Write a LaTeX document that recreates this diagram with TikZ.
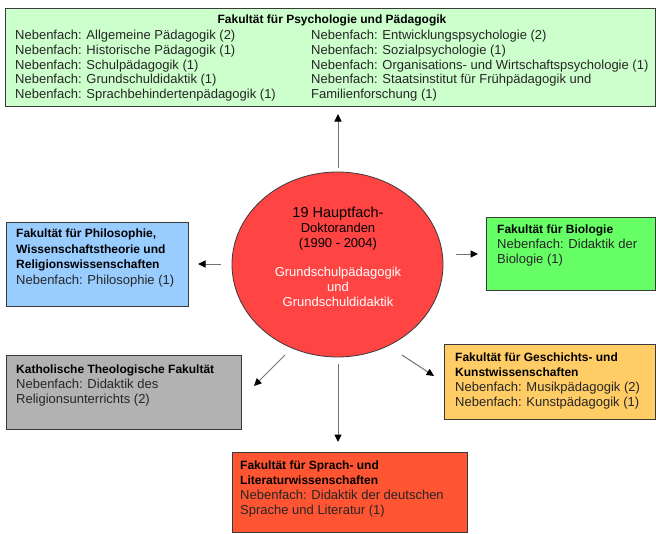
\documentclass[tikz,border=0pt]{standalone}
\usepackage{fontspec}
\setmainfont{Liberation Sans}
\usetikzlibrary{shapes.geometric,arrows.meta}
\definecolor{cTop}{HTML}{CCFFCC}
\definecolor{cPhil}{HTML}{99CCFF}
\definecolor{cBio}{HTML}{66FF66}
\definecolor{cCath}{HTML}{B2B2B2}
\definecolor{cGesch}{HTML}{FFCC66}
\definecolor{cSprach}{HTML}{FF5533}
\definecolor{cCirc}{HTML}{FF4444}
\definecolor{cEdge}{HTML}{3A3A3A}
\tikzset{
  box/.style={draw=cEdge,line width=1pt,rectangle,inner sep=0pt,anchor=north west},
  txt/.style={inner sep=0pt,anchor=base west,text=black!85,font=\fontsize{13}{15}\selectfont},
  ttl/.style={inner sep=0pt,anchor=base west,text=black,font=\bfseries\fontsize{12}{15}\selectfont},
  ctxt/.style={inner sep=0pt,anchor=base,font=\fontsize{13}{15}\selectfont},
  arr/.style={draw=black!55,line width=1pt,-{Triangle[length=7.5pt,width=7pt,color=black]}}
}
\begin{document}
\begin{tikzpicture}[x=1pt,y=-1pt]
\useasboundingbox (0,0) rectangle (656,533);
% boxes
\node[box,fill=cTop,minimum width=650pt,minimum height=98pt] (top) at (5,8) {};
\node[box,fill=cPhil,minimum width=182pt,minimum height=84pt] (phil) at (6,222) {};
\node[box,fill=cBio,minimum width=169pt,minimum height=73pt] (bio) at (486,217) {};
\node[box,fill=cCath,minimum width=235pt,minimum height=74pt] (cath) at (6,355) {};
\node[box,fill=cGesch,minimum width=211pt,minimum height=75pt] (gesch) at (444,344) {};
\node[box,fill=cSprach,minimum width=235pt,minimum height=80pt] (sprach) at (232,452) {};
% circle
\node[ellipse,draw=cEdge,line width=0.8pt,fill=cCirc,minimum width=211pt,minimum height=185pt,inner sep=0pt] (circ) at (337.5,264.5) {};
% top box text
\node[ttl,anchor=base] (top-t) at (332,23.5) {Fakultät für Psychologie und Pädagogik};
\foreach \t [count=\i] in {{Nebenfach: Allgemeine Pädagogik (2)},{Nebenfach: Historische Pädagogik (1)},{Nebenfach: Schulpädagogik (1)},{Nebenfach: Grundschuldidaktik (1)},{Nebenfach: Sprachbehindertenpädagogik (1)}}
  \node[txt] (top-l\i) at (15,{39.5+14.75*(\i-1)}) {\t};
\foreach \t [count=\i] in {{Nebenfach: Entwicklungspsychologie (2)},{Nebenfach: Sozialpsychologie (1)},{Nebenfach: Organisations- und Wirtschaftspsychologie (1)},{Nebenfach: Staatsinstitut für Frühpädagogik und},{Familienforschung (1)}}
  \node[txt] (top-r\i) at (311,{39.5+14.75*(\i-1)}) {\t};
% philosophy
\node[ttl] (phil-1) at (16,237.5) {Fakultät für Philosophie,};
\node[ttl] (phil-2) at (16,253) {Wissenschaftstheorie und};
\node[ttl] (phil-3) at (16,268.5) {Religionswissenschaften};
\node[txt] (phil-4) at (16,284) {Nebenfach: Philosophie (1)};
% biology
\node[ttl] (bio-1) at (497,233.5) {Fakultät für Biologie};
\node[txt] (bio-2) at (497,248.5) {Nebenfach: Didaktik der};
\node[txt] (bio-3) at (497,263.5) {Biologie (1)};
% catholic
\node[ttl] (cath-1) at (16,373.5) {Katholische Theologische Fakultät};
\node[txt] (cath-2) at (16,388.5) {Nebenfach: Didaktik des};
\node[txt] (cath-3) at (16,403.5) {Religionsunterrichts (2)};
% history
\node[ttl] (gesch-1) at (455,361.5) {Fakultät für Geschichts- und};
\node[ttl] (gesch-2) at (455,376.5) {Kunstwissenschaften};
\node[txt] (gesch-3) at (455,391.5) {Nebenfach: Musikpädagogik (2)};
\node[txt] (gesch-4) at (455,406.5) {Nebenfach: Kunstpädagogik (1)};
% language
\node[ttl] (spr-1) at (240,469.5) {Fakultät für Sprach- und};
\node[ttl] (spr-2) at (240,484.5) {Literaturwissenschaften};
\node[txt] (spr-3) at (240,499.5) {Nebenfach: Didaktik der deutschen};
\node[txt] (spr-4) at (240,514.5) {Sprache und Literatur (1)};
% circle text
\node[ctxt,font=\fontsize{14.5}{15}\selectfont] (c-1) at (338,217.5) {19 Hauptfach-};
\node[ctxt] (c-2) at (338,232.5) {Doktoranden};
\node[ctxt] (c-3) at (338,247.5) {(1990 - 2004)};
\node[ctxt,text=white] (c-4) at (338,276.5) {Grundschulpädagogik};
\node[ctxt,text=white] (c-5) at (338,291.5) {und};
\node[ctxt,text=white] (c-6) at (338,306.5) {Grundschuldidaktik};
% arrow endpoints
\coordinate (aT0) at (338,168); \coordinate (aT1) at (338,114);
\coordinate (aL0) at (221,264); \coordinate (aL1) at (198,264);
\coordinate (aR0) at (456,254); \coordinate (aR1) at (478,254);
\coordinate (aSW0) at (285,355); \coordinate (aSW1) at (254,386);
\coordinate (aSE0) at (402,355); \coordinate (aSE1) at (434,376);
\coordinate (aD0) at (338,364); \coordinate (aD1) at (338,442);
\draw[arr] (aT0) -- (aT1);
\draw[arr] (aL0) -- (aL1);
\draw[arr] (aR0) -- (aR1);
\draw[arr] (aSW0) -- (aSW1);
\draw[arr] (aSE0) -- (aSE1);
\draw[arr] (aD0) -- (aD1);
\end{tikzpicture}
\end{document}
